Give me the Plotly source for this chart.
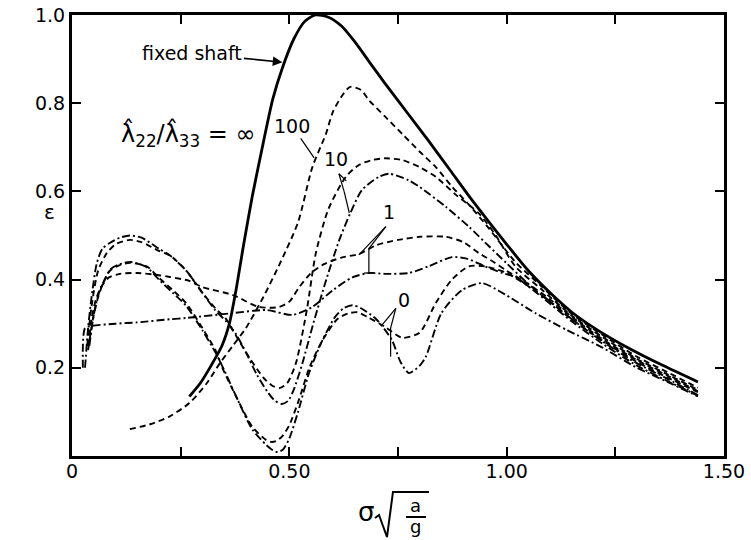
import plotly.graph_objects as go

# ---------------- data ----------------
fixed_x = [0.27, 0.295, 0.32, 0.345, 0.362, 0.378, 0.395, 0.415, 0.44, 0.462, 0.484, 0.51, 0.535, 0.56,
           0.59, 0.62, 0.65, 0.683, 0.72, 0.77, 0.82, 0.87, 0.913, 0.96, 1.0, 1.05, 1.10, 1.15, 1.21, 1.28,
           1.36, 1.44]
fixed_y = [0.135, 0.165, 0.205, 0.25, 0.30, 0.38, 0.48, 0.59, 0.71, 0.81, 0.88, 0.945, 0.985, 1.0,
           0.995, 0.975, 0.94, 0.895, 0.845, 0.78, 0.715, 0.648, 0.59, 0.53, 0.48, 0.42, 0.37, 0.326, 0.285,
           0.245, 0.205, 0.168]

r100_x = [0.133, 0.18, 0.225, 0.27, 0.31, 0.34, 0.37, 0.40, 0.44, 0.48, 0.52, 0.553, 0.584, 0.60, 0.62, 0.64,
          0.665, 0.683, 0.72, 0.76, 0.80, 0.837, 0.875, 0.913, 0.96, 1.02, 1.08, 1.15, 1.22, 1.30, 1.37, 1.44]
r100_y = [0.061, 0.072, 0.09, 0.12, 0.165, 0.21, 0.25, 0.29, 0.36, 0.44, 0.53, 0.655, 0.73, 0.78, 0.815, 0.837,
          0.83, 0.807, 0.77, 0.73, 0.69, 0.655, 0.61, 0.57, 0.515, 0.44, 0.385, 0.322, 0.275, 0.225, 0.19, 0.155]

r10d_x = [0.035, 0.045, 0.06, 0.08, 0.10, 0.133, 0.16, 0.20, 0.225, 0.263, 0.30, 0.33, 0.355, 0.37, 0.385, 0.41,
          0.44, 0.46, 0.477, 0.495, 0.515, 0.54, 0.561, 0.59, 0.63, 0.66, 0.69, 0.72, 0.76, 0.80, 0.837, 0.88,
          0.936, 0.975, 1.02, 1.08, 1.15, 1.22, 1.30, 1.37, 1.44]
r10d_y = [0.25, 0.34, 0.42, 0.46, 0.48, 0.49, 0.485, 0.465, 0.455, 0.42, 0.37, 0.335, 0.31, 0.285, 0.26, 0.22,
          0.178, 0.16, 0.154, 0.165, 0.21, 0.33, 0.46, 0.56, 0.633, 0.66, 0.671, 0.675, 0.671, 0.655, 0.633, 0.595,
          0.55, 0.5, 0.43, 0.378, 0.318, 0.27, 0.22, 0.185, 0.15]

r10c_x = [0.03, 0.037, 0.045, 0.057, 0.07, 0.087, 0.11, 0.133, 0.16, 0.20, 0.225, 0.263, 0.30, 0.33, 0.355,
          0.378, 0.40, 0.425, 0.45, 0.465, 0.482, 0.497, 0.51, 0.53, 0.555, 0.585, 0.615, 0.64, 0.667, 0.706,
          0.73, 0.775, 0.80, 0.86, 0.913, 0.96, 1.0, 1.05, 1.10, 1.15, 1.22, 1.30, 1.37, 1.44]
r10c_y = [0.20, 0.29, 0.36, 0.437, 0.47, 0.483, 0.495, 0.50, 0.495, 0.47, 0.455, 0.42, 0.37, 0.33, 0.305,
          0.275, 0.235, 0.185, 0.145, 0.127, 0.118, 0.125, 0.15, 0.21, 0.30, 0.40, 0.49, 0.55, 0.603, 0.633,
          0.64, 0.625, 0.61, 0.565, 0.52, 0.475, 0.437, 0.39, 0.35, 0.31, 0.26, 0.21, 0.175, 0.138]

r1d_x = [0.038, 0.045, 0.055, 0.068, 0.085, 0.11, 0.15, 0.20, 0.225, 0.27, 0.30, 0.37, 0.43, 0.477, 0.50, 0.523,
         0.55, 0.58, 0.62, 0.66, 0.70, 0.75, 0.80, 0.86, 0.90, 0.936, 0.97, 1.0, 1.05, 1.10, 1.15, 1.22, 1.30,
         1.37, 1.44]
r1d_y = [0.25, 0.31, 0.355, 0.385, 0.405, 0.413, 0.415, 0.41, 0.406, 0.397, 0.383, 0.365, 0.338, 0.338, 0.35,
         0.383, 0.415, 0.435, 0.45, 0.458, 0.478, 0.49, 0.497, 0.497, 0.485, 0.46, 0.44, 0.42, 0.39, 0.355, 0.315,
         0.265, 0.217, 0.182, 0.147]

r1c_x = [0.025, 0.03, 0.045, 0.10, 0.15, 0.225, 0.263, 0.37, 0.447, 0.507, 0.553, 0.60, 0.645, 0.683, 0.72,
         0.775, 0.82, 0.874, 0.91, 0.95, 0.99, 1.02, 1.06, 1.10, 1.15, 1.22, 1.30, 1.37, 1.44]
r1c_y = [0.20, 0.29, 0.295, 0.30, 0.303, 0.31, 0.313, 0.324, 0.331, 0.32, 0.338, 0.376, 0.405, 0.415, 0.413,
         0.415, 0.43, 0.451, 0.447, 0.43, 0.415, 0.406, 0.377, 0.345, 0.305, 0.255, 0.205, 0.17, 0.137]

r0d_x = [0.037, 0.048, 0.06, 0.071, 0.087, 0.11, 0.133, 0.172, 0.20, 0.232, 0.263, 0.30, 0.33, 0.346, 0.378,
         0.415, 0.447, 0.458, 0.47, 0.484, 0.50, 0.523, 0.546, 0.575, 0.61, 0.635, 0.656, 0.68, 0.72, 0.76,
         0.80, 0.837, 0.874, 0.913, 0.95, 1.0, 1.05, 1.10, 1.15, 1.22, 1.30, 1.37, 1.44]
r0d_y = [0.24, 0.31, 0.36, 0.39, 0.42, 0.433, 0.438, 0.43, 0.404, 0.376, 0.346, 0.29, 0.24, 0.20, 0.134,
         0.066, 0.036, 0.032, 0.034, 0.045, 0.07, 0.13, 0.20, 0.26, 0.31, 0.323, 0.326, 0.315, 0.293, 0.268,
         0.28, 0.347, 0.40, 0.43, 0.43, 0.415, 0.385, 0.35, 0.31, 0.262, 0.213, 0.178, 0.145]

r0c_x = [0.04, 0.05, 0.062, 0.075, 0.09, 0.11, 0.135, 0.172, 0.20, 0.232, 0.263, 0.30, 0.33, 0.35, 0.38,
         0.415, 0.447, 0.462, 0.473, 0.485, 0.50, 0.52, 0.546, 0.575, 0.605, 0.625, 0.645, 0.665, 0.70, 0.736,
         0.755, 0.775, 0.80, 0.814, 0.85, 0.897, 0.943, 0.99, 1.066, 1.14, 1.218, 1.30, 1.37, 1.44]
r0c_y = [0.25, 0.32, 0.37, 0.40, 0.425, 0.435, 0.44, 0.428, 0.40, 0.37, 0.34, 0.285, 0.235, 0.195, 0.13,
         0.06, 0.025, 0.013, 0.009, 0.014, 0.04, 0.10, 0.19, 0.26, 0.315, 0.335, 0.342, 0.335, 0.31, 0.263,
         0.215, 0.188, 0.205, 0.225, 0.324, 0.376, 0.392, 0.37, 0.324, 0.285, 0.247, 0.20, 0.168, 0.135]

x_tickvals = [0, 0.5, 1.0, 1.5]
x_ticktext = ["0", "0.50", "1.00", "1.50"]
x_minor_step = 0.25
y_tickvals = [0.2, 0.4, 0.6, 0.8, 1.0]
y_ticktext = ["0.2", "0.4", "0.6", "0.8", "1.0"]

# ---------------- figure ----------------
DASH = "6px,4px"
DASHDOT = "8px,3px,2px,3px"
FONT = "DejaVu Sans"

series = [
    (fixed_x, fixed_y, "solid", 2.8),
    (r100_x, r100_y, DASH, 1.9),
    (r10d_x, r10d_y, DASH, 1.9),
    (r10c_x, r10c_y, DASHDOT, 1.9),
    (r1d_x, r1d_y, DASH, 1.9),
    (r1c_x, r1c_y, DASHDOT, 1.9),
    (r0d_x, r0d_y, DASH, 1.9),
    (r0c_x, r0c_y, DASHDOT, 1.9),
]

fig = go.Figure()
for xs, ys, dash, w in series:
    fig.add_trace(go.Scatter(x=xs, y=ys, mode="lines",
                             line=dict(color="black", width=w, dash=dash, shape="spline", smoothing=0.7),
                             showlegend=False, hoverinfo="skip"))

axis_common = dict(showline=True, linewidth=3, linecolor="black", mirror="ticks",
                   ticks="inside", ticklen=9, tickwidth=2, tickcolor="black",
                   showgrid=False, zeroline=False,
                   tickfont=dict(family=FONT, size=19, color="black"))

fig.update_layout(
    width=751, height=540,
    margin=dict(l=72, r=27, t=15, b=84, autoexpand=False),
    paper_bgcolor="white", plot_bgcolor="white",
    xaxis=dict(range=[0, 1.5], tickvals=x_tickvals, ticktext=x_ticktext,
               minor=dict(dtick=x_minor_step, tick0=0, ticks="inside", ticklen=9, tickwidth=2,
                          tickcolor="black", showgrid=False),
               ticklabelstandoff=-4,
               **axis_common),
    yaxis=dict(range=[0, 1.0], tickvals=y_tickvals, ticktext=y_ticktext, **axis_common),
)

# labels
fig.add_annotation(x=0.484, y=0.893, xref="x", yref="y", text="fixed shaft",
                   showarrow=True, ax=-90, ay=-9, arrowhead=2, arrowsize=1.2, arrowwidth=1.6,
                   arrowcolor="black",
                   font=dict(family=FONT, size=19, color="black"))
fig.add_annotation(x=0.268, y=0.728, xref="x", yref="y",
                   text="\u03bb\u0302<sub>22</sub>/\u03bb\u0302<sub>33</sub> = \u221e",
                   showarrow=False, font=dict(family=FONT, size=24, color="black"))
fig.add_annotation(x=0.557, y=0.676, xref="x", yref="y", text="100",
                   showarrow=True, ax=-22, ay=-32, arrowhead=0, arrowwidth=1.2, arrowcolor="black",
                   font=dict(family=FONT, size=19, color="black"))
fig.add_annotation(x=0.608, y=0.673, xref="x", yref="y", text="10",
                   showarrow=False, font=dict(family=FONT, size=19, color="black"))
fig.add_annotation(x=0.729, y=0.553, xref="x", yref="y", text="1",
                   showarrow=False, font=dict(family=FONT, size=19, color="black"))
fig.add_annotation(x=0.763, y=0.354, xref="x", yref="y", text="0",
                   showarrow=False, font=dict(family=FONT, size=19, color="black"))

# leader lines
leaders = [
    ((0.614, 0.64), (0.631, 0.624)),
    ((0.614, 0.64), (0.626, 0.60)),
    ((0.626, 0.60), (0.638, 0.551)),
    ((0.722, 0.52), (0.66, 0.456)),
    ((0.722, 0.52), (0.683, 0.47)),
    ((0.683, 0.47), (0.683, 0.415)),
    ((0.672, 0.415), (0.694, 0.415)),
    ((0.745, 0.335), (0.713, 0.297)),
    ((0.745, 0.335), (0.733, 0.29)),
    ((0.733, 0.29), (0.733, 0.225)),
]
for (x0, y0), (x1, y1) in leaders:
    fig.add_shape(type="line", xref="x", yref="y", x0=x0, y0=y0, x1=x1, y1=y1,
                  line=dict(color="black", width=1.2))


def px(xp, yp):
    return (xp - 72) / 652, (456 - yp) / 441


def paper_text(xp, yp, text, size):
    xx, yy = px(xp, yp)
    fig.add_annotation(x=xx, y=yy, xref="paper", yref="paper", text=text, showarrow=False,
                       xanchor="center", yanchor="middle",
                       font=dict(family=FONT, size=size, color="black"))


# axis titles
paper_text(49, 212, "\u03b5", 20)
paper_text(366, 512, "\u03c3", 26)
paper_text(416, 505, "a", 18)
paper_text(416, 526, "g", 18)

pts = [px(375, 518), px(379, 515), px(387, 537), px(393, 492), px(429, 492)]
path = "M " + " L ".join(f"{a:.4f},{b:.4f}" for a, b in pts)
fig.add_shape(type="path", xref="paper", yref="paper", path=path, line=dict(color="black", width=2))
f0, f1 = px(406, 517), px(426, 517)
fig.add_shape(type="line", xref="paper", yref="paper", x0=f0[0], y0=f0[1], x1=f1[0], y1=f1[1],
              line=dict(color="black", width=2))

fig.write_html("out.html", config={"displayModeBar": False},
               post_script="document.body.style.margin='0px';")
